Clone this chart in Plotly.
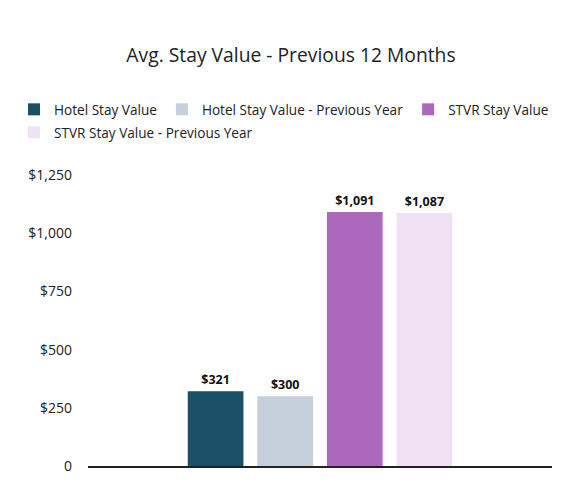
import plotly.graph_objects as go

category = ["Avg. Stay Value"]
series_names = ["Hotel Stay Value", "Hotel Stay Value - Previous Year",
                "STVR Stay Value", "STVR Stay Value - Previous Year"]
series_values = [321, 300, 1091, 1087]
series_colors = ["#1b4f67", "#c6cfdc", "#ab68bc", "#f0e2f4"]
series_legend = ["legend", "legend", "legend", "legend2"]
tick_vals = [0, 250, 500, 750, 1000, 1250]
tick_text = ["0", "$250", "$500", "$750", "$1,000", "$1,250"]

# page offset of 8px (body margin) -> figure is 570x489
W, H = 570, 489
L, T, R, B = 80, 167, 26, 31
PW, PH = W - L - R, H - T - B

fig = go.Figure()
for name, val, col, leg in zip(series_names, series_values, series_colors, series_legend):
    fig.add_trace(go.Bar(
        x=category, y=[val], name=name, legend=leg,
        marker=dict(color=col, line=dict(width=0)),
        text=[f"${val:,}"], textposition="outside",
        textfont=dict(family="Open Sans", size=12.5, color="#111111", weight="bold"),
        cliponaxis=False,
    ))

legend_common = dict(orientation="h", xref="paper", yref="paper",
                     xanchor="left", yanchor="top",
                     font=dict(size=13.6, color="#222222"), itemwidth=30,
                     bgcolor="rgba(0,0,0,0)", traceorder="normal")

fig.update_layout(
    width=W, height=H,
    margin=dict(l=L, r=R, t=T, b=B, autoexpand=False),
    paper_bgcolor="white", plot_bgcolor="white",
    barmode="group", bargap=0.40, bargroupgap=0.2,
    font=dict(family="Open Sans", color="#222222"),
    title=dict(text="Avg. Stay Value - Previous 12 Months", x=283 / W, xanchor="center",
               y=1 - 47 / H, yanchor="middle", font=dict(size=19.3, color="#222222")),
    legend=dict(x=(6 - L) / PW, y=(PH + T - 86) / PH, **legend_common),
    legend2=dict(x=(6 - L) / PW, y=(PH + T - 109) / PH, **legend_common),
    xaxis=dict(showticklabels=False, showgrid=False, zeroline=False,
               showline=True, linecolor="#222222", linewidth=1.5, ticks=""),
    yaxis=dict(range=[0, 1250], tickvals=tick_vals, ticktext=tick_text,
               showgrid=False, zeroline=False, showline=False,
               tickfont=dict(size=14, color="#222222"), ticklabelstandoff=15),
)

fig.write_html("out.html")
